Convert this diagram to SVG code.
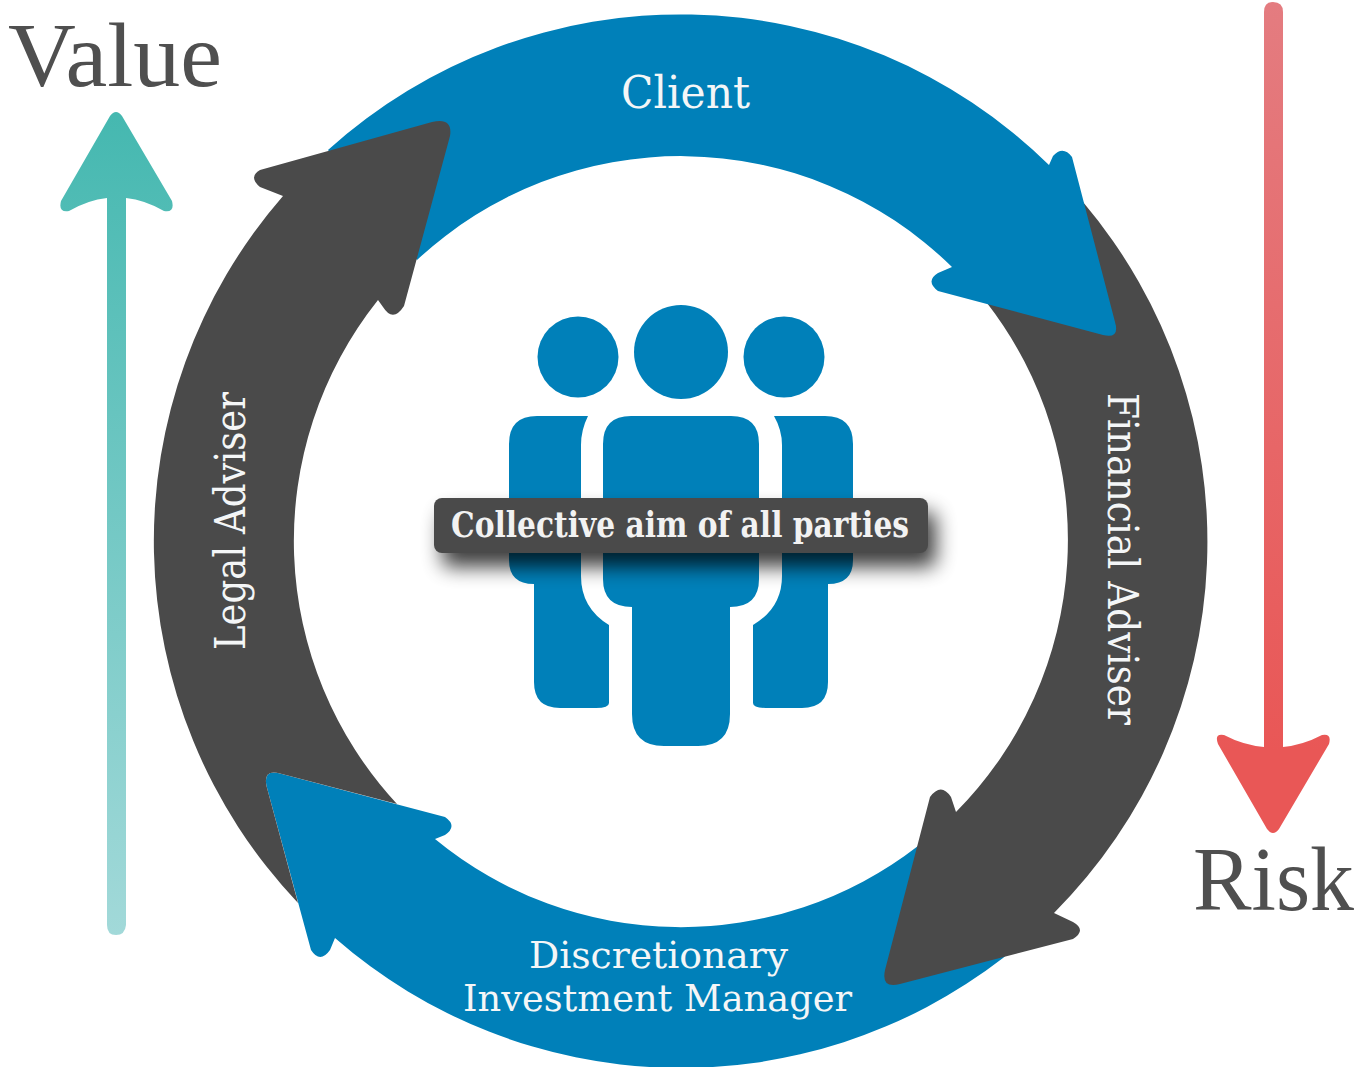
<svg xmlns="http://www.w3.org/2000/svg" width="1359" height="1067" viewBox="0 0 1359 1067">
<style>
.blue{fill:#0080b9}
.dark{fill:#4a4a4a}
text{font-family:"DejaVu Serif","Liberation Serif",serif}
.lbl{fill:#f4f6f7;font-size:42px}
.big{fill:#4f4f4f;font-family:"Liberation Serif",serif;font-size:90px}
</style>
<defs>
<linearGradient id="teal" gradientUnits="userSpaceOnUse" x1="0" y1="112" x2="0" y2="935"><stop offset="0" stop-color="#45b8b0"/><stop offset="1" stop-color="#a2d9d9"/></linearGradient>
<linearGradient id="red" gradientUnits="userSpaceOnUse" x1="0" y1="2" x2="0" y2="834"><stop offset="0" stop-color="#e47c80"/><stop offset="0.9" stop-color="#e95756"/></linearGradient>
<filter id="shadow" x="-10%" y="-60%" width="125%" height="240%"><feGaussianBlur stdDeviation="10"/></filter>
</defs>
<g id="connectors">
<path id="arc-discretionary" class="blue" d="M1054,913 L1003,958 A526,526 0 0 1 335,938 L330,950 Q320,964 311,950 L266.5,786 Q263,769 280,773.5 L445,817 Q458,826 445,835 L435,839 A387,387 0 0 0 918,846 L956,812 Z"/>
<path id="arc-financial" class="dark" d="M1049,165 L1083,202 A526,526 0 0 1 1054,913 L1073,922 Q1087,930 1073,939 L900,984 Q881,989 885,970 L930,797 Q941,782 951,797 L956,812 A387,387 0 0 0 987,303 L952,267 Z"/>
<path id="arc-client" class="blue" d="M328,150 A526,526 0 0 1 1049,165 L1053,156 Q1063,145 1072,157 L1115,322 Q1120,339 1103,335 L938,291 Q925,281 938,273 L952,267 A387,387 0 0 0 417,260 Z"/>
<path id="arc-legal" class="dark" d="M298,903 A526,526 0 0 1 283,196 L260,187 Q248,177 260,170 L432,122 Q453,117 450,136 L404,306 Q393,323 383,307 L378,300 A387,387 0 0 0 397,804 L280,773.5 Q263,769 266.5,786 Z"/>
</g>
<g id="value-arrow">
<path fill="url(#teal)" d="M110,116 Q116,108 122,116 L172,201 Q175,213 164,211 Q145,200 126,198 L126,925 Q125,935 116,935 Q107,935 107,925 L107,198 Q88,200 69,211 Q58,213 61,201 Z"/>
<text class="big" x="8" y="86" textLength="214" lengthAdjust="spacingAndGlyphs">Value</text>
</g>
<g id="risk-arrow">
<path fill="url(#red)" d="M1264,12 Q1264,2 1273,2 Q1283,2 1283,12 L1283,747 Q1303,745 1322,735 Q1332,733 1329,744 L1279,829 Q1273,837 1267,829 L1218,744 Q1214,733 1224,735 Q1243,745 1264,747 Z"/>
<text class="big" x="1193" y="910" textLength="161" lengthAdjust="spacingAndGlyphs">Risk</text>
</g>
<g id="people">
<circle class="blue" cx="681" cy="352" r="47"/>
<circle class="blue" cx="578" cy="357" r="40.5"/>
<circle class="blue" cx="784" cy="357" r="40.5"/>
<path class="blue" d="M631,416 H731 Q759,416 759,444 V579 Q759,607 730,607 V714 Q730,746 698,746 H664 Q632,746 632,714 V607 Q603,607 603,579 V444 Q603,416 631,416 Z"/>
<path class="blue" d="M537,416 H588 Q581,430 581,445 V576 Q581,608 609,625 V703 Q609,708 596,708 H560 Q534,708 534,682 V584 Q509,584 509,560 V444 Q509,416 537,416 Z"/>
<path class="blue" d="M825,416 H774 Q782,430 782,445 V576 Q782,608 753,625 V703 Q753,708 766,708 H802 Q828,708 828,682 V584 Q853,584 853,560 V444 Q853,416 825,416 Z"/>
</g>
<g id="aim">
<rect x="442" y="512" width="494" height="55" rx="8" fill="#000" opacity="0.75" filter="url(#shadow)"/>
<rect class="dark" x="434" y="498" width="494" height="55" rx="8"/>
<text x="451" y="537" textLength="458" lengthAdjust="spacingAndGlyphs" font-size="35" font-weight="bold" fill="#f2f2f2">Collective aim of all parties</text>
</g>
<g id="labels">
<text class="lbl" x="621" y="108" textLength="129" lengthAdjust="spacingAndGlyphs" style="font-size:45px">Client</text>
<text class="lbl" transform="translate(1108,393) rotate(90)" textLength="332" lengthAdjust="spacingAndGlyphs">Financial Adviser</text>
<text class="lbl" transform="translate(245,650) rotate(-90)" textLength="258" lengthAdjust="spacingAndGlyphs">Legal Adviser</text>
<text class="lbl" x="529" y="968" textLength="259" lengthAdjust="spacingAndGlyphs" style="font-size:38px">Discretionary</text>
<text class="lbl" x="463" y="1011" textLength="389" lengthAdjust="spacingAndGlyphs" style="font-size:38px">Investment Manager</text>
</g>
</svg>
